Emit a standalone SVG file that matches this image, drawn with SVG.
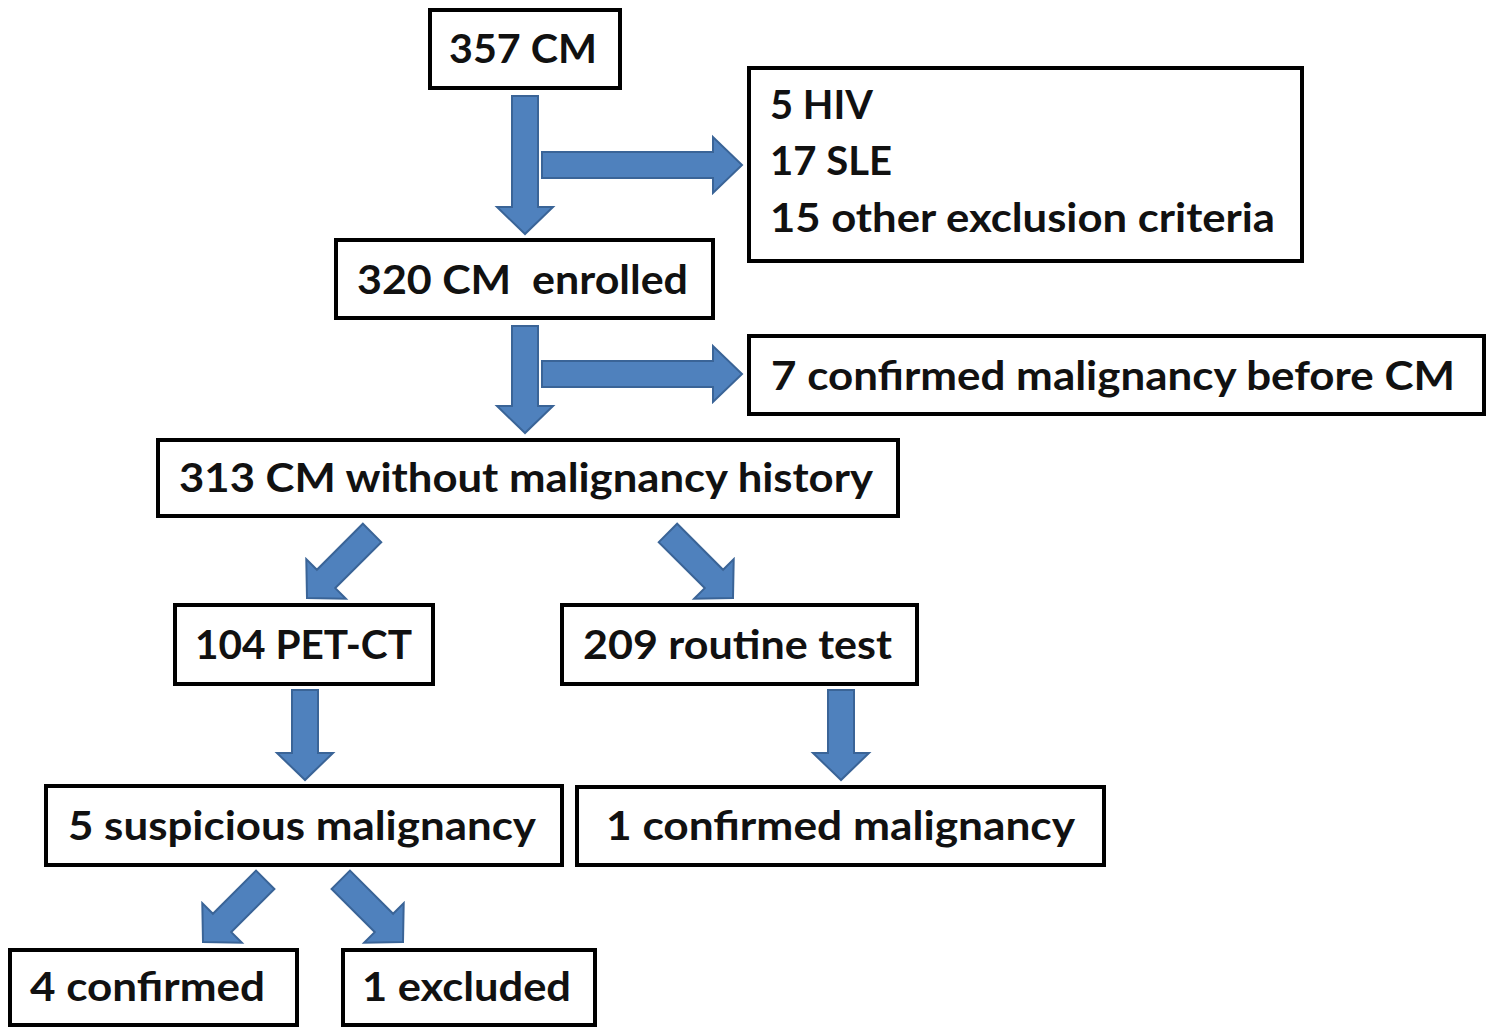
<svg xmlns="http://www.w3.org/2000/svg" width="1494" height="1028" viewBox="0 0 1494 1028">
<style>
.box{fill:#fff;stroke:#000;stroke-width:4}
.t{font-family:Lato,"Liberation Sans",sans-serif;font-weight:bold;font-size:40px;fill:#111}
.arr{fill:#4F81BD;stroke:#3A6497;stroke-width:2;stroke-linejoin:miter}
</style>
<rect width="1494" height="1028" fill="#fff"/>
<g id="connectors">
<path class="arr" transform="translate(525,234)" d="M0,0 L-28,-27 L-13,-27 L-13,-138 L13,-138 L13,-27 L28,-27 Z"/>
<path class="arr" transform="translate(742,165) rotate(-90)" d="M0,0 L-28,-29 L-13,-29 L-13,-200 L13,-200 L13,-29 L28,-29 Z"/>
<path class="arr" transform="translate(525,433)" d="M0,0 L-28,-27 L-13,-27 L-13,-107 L13,-107 L13,-27 L28,-27 Z"/>
<path class="arr" transform="translate(742,374) rotate(-90)" d="M0,0 L-28,-29 L-13,-29 L-13,-200 L13,-200 L13,-29 L28,-29 Z"/>
<path class="arr" transform="translate(307,598) rotate(45)" d="M0,0 L-28,-27 L-13,-27 L-13,-92 L13,-92 L13,-27 L28,-27 Z"/>
<path class="arr" transform="translate(733,598) rotate(-45)" d="M0,0 L-28,-27 L-13,-27 L-13,-92 L13,-92 L13,-27 L28,-27 Z"/>
<path class="arr" transform="translate(305,780)" d="M0,0 L-28,-27 L-13,-27 L-13,-90 L13,-90 L13,-27 L28,-27 Z"/>
<path class="arr" transform="translate(841,780)" d="M0,0 L-28,-27 L-13,-27 L-13,-90 L13,-90 L13,-27 L28,-27 Z"/>
<path class="arr" transform="translate(203,942) rotate(45)" d="M0,0 L-28,-27 L-13,-27 L-13,-88 L13,-88 L13,-27 L28,-27 Z"/>
<path class="arr" transform="translate(403,942) rotate(-45)" d="M0,0 L-28,-27 L-13,-27 L-13,-88 L13,-88 L13,-27 L28,-27 Z"/>
</g>
<g id="n357"><rect class="box" x="430" y="10" width="190" height="78"/><text class="t" x="449" y="63" textLength="148" lengthAdjust="spacingAndGlyphs">357 CM</text></g>
<g id="nExcl"><rect class="box" x="749" y="68" width="553" height="193"/>
<text class="t" x="770" y="119" textLength="103" lengthAdjust="spacingAndGlyphs">5 HIV</text>
<text class="t" x="770" y="175" textLength="122" lengthAdjust="spacingAndGlyphs">17 SLE</text>
<text class="t" x="770" y="232" textLength="505" lengthAdjust="spacingAndGlyphs">15 other exclusion criteria</text></g>
<g id="n320"><rect class="box" x="336" y="240" width="377" height="78"/><text class="t" x="357" y="294" textLength="331" lengthAdjust="spacingAndGlyphs" xml:space="preserve">320 CM  enrolled</text></g>
<g id="n7"><rect class="box" x="749" y="336" width="735" height="78"/><text class="t" x="771" y="390" textLength="684" lengthAdjust="spacingAndGlyphs">7 confirmed malignancy before CM</text></g>
<g id="n313"><rect class="box" x="158" y="440" width="740" height="76"/><text class="t" x="179" y="492" textLength="694" lengthAdjust="spacingAndGlyphs">313 CM without malignancy history</text></g>
<g id="n104"><rect class="box" x="175" y="605" width="258" height="79"/><text class="t" x="195" y="659" textLength="217" lengthAdjust="spacingAndGlyphs">104 PET-CT</text></g>
<g id="n209"><rect class="box" x="562" y="605" width="355" height="79"/><text class="t" x="583" y="659" textLength="309" lengthAdjust="spacingAndGlyphs">209 routine test</text></g>
<g id="n5s"><rect class="box" x="46" y="786" width="516" height="79"/><text class="t" x="68" y="840" textLength="468" lengthAdjust="spacingAndGlyphs">5 suspicious malignancy</text></g>
<g id="n1c"><rect class="box" x="577" y="787" width="527" height="78"/><text class="t" x="606" y="840" textLength="469" lengthAdjust="spacingAndGlyphs">1 confirmed malignancy</text></g>
<g id="n4c"><rect class="box" x="10" y="950" width="287" height="75"/><text class="t" x="30" y="1001" textLength="235" lengthAdjust="spacingAndGlyphs">4 confirmed</text></g>
<g id="n1e"><rect class="box" x="343" y="950" width="252" height="75"/><text class="t" x="362" y="1001" textLength="209" lengthAdjust="spacingAndGlyphs">1 excluded</text></g>
</svg>
